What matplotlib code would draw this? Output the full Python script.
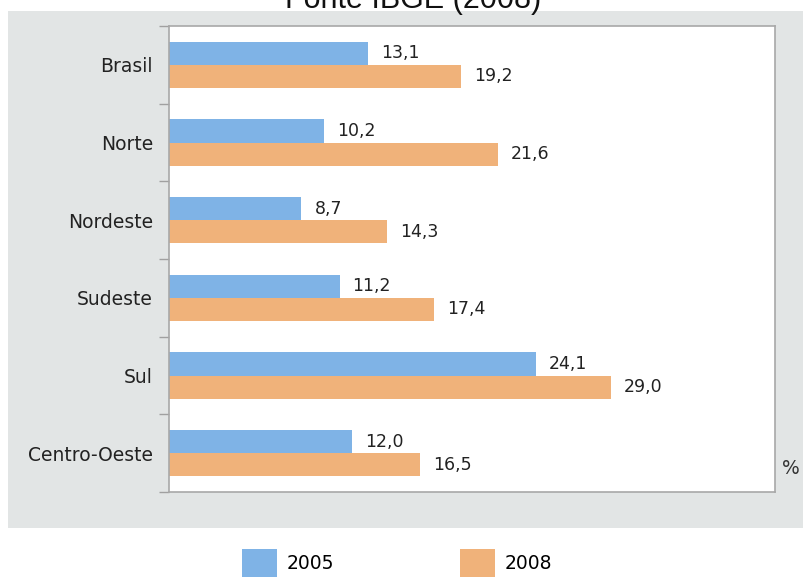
import numpy as np
import matplotlib
matplotlib.use("Agg")
import matplotlib.pyplot as plt
from matplotlib.patches import Rectangle

regioes = ["Brasil", "Norte", "Nordeste", "Sudeste", "Sul", "Centro-Oeste"]
v2005 = [13.1, 10.2, 8.7, 11.2, 24.1, 12.0]
v2008 = [19.2, 21.6, 14.3, 17.4, 29.0, 16.5]
anos = ["2005", "2008"]

cor_2005 = "#7fb3e6"
cor_2008 = "#f0b27a"
fundo = "#e2e5e5"
texto = "#222222"

fig = plt.figure(figsize=(8.04, 5.78), dpi=100)
fig.patch.set_facecolor("white")

# painel cinza atras do grafico
fig.patches.append(Rectangle((8 / 804, 1 - 528 / 578), 796 / 804, 517 / 578,
                             transform=fig.transFigure, facecolor=fundo,
                             edgecolor="none", zorder=-10))

ax = fig.add_axes([169 / 804, 1 - 492 / 578, 606 / 804, 466 / 578])
ax.set_facecolor("white")

y = np.arange(len(regioes))
h = 0.30
b1 = ax.barh(y - h / 2, v2005, height=h, color=cor_2005, label=anos[0])
b2 = ax.barh(y + h / 2, v2008, height=h, color=cor_2008, label=anos[1])

for barras, valores in [(b1, v2005), (b2, v2008)]:
    for rect, v in zip(barras, valores):
        ax.text(v + 0.85, rect.get_y() + rect.get_height() / 2,
                f"{v:.1f}".replace(".", ","), va="center", ha="left",
                fontsize=12.5, color=texto)

ax.set_xlim(0, 39.8)
ax.set_ylim(len(regioes) - 0.5, -0.5)
ax.set_xticks([])
ax.set_yticks(y)
ax.set_yticklabels(regioes, fontsize=13.5, color=texto)
ax.tick_params(axis="y", which="major", length=0, pad=11.5)
ax.set_yticks(np.arange(len(regioes) + 1) - 0.5, minor=True)
ax.tick_params(axis="y", which="minor", length=7, color="#a0a0a0", width=1)

for lado in ["left", "bottom", "right", "top"]:
    ax.spines[lado].set_color("#a8a8a8")
    ax.spines[lado].set_linewidth(1.2)

fig.text(791 / 804, 1 - 468 / 578, "%", fontsize=13.5, color="#333333",
         ha="center", va="center")

fig.text(413 / 804, 1 - 8 / 578, "Fonte IBGE (2008)", fontsize=22,
         family="Liberation Sans", ha="center", va="baseline", color="#111111")

fig.legend(handles=[b1, b2], labels=anos, loc="center",
           bbox_to_anchor=(397 / 804, 1 - 563 / 578), ncol=2, frameon=False,
           fontsize=13.5, handlelength=1.87, handleheight=1.9,
           handletextpad=0.5, columnspacing=6.7)

fig.savefig("out.png", dpi=100, facecolor="white")
